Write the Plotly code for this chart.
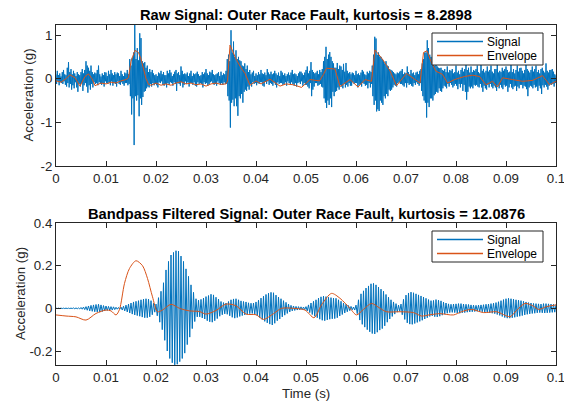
import numpy as np
import plotly.graph_objects as go

# ---------------- data ----------------
raw_signal = [
 0.10,-0.12,0.18,-0.05,0.08,-0.15,0.12,-0.08, 0.05,-0.10,0.15,-0.12,0.20,-0.06,0.10,-0.14,
 0.08,-0.18,0.25,-0.10,0.38,-0.20,0.15,-0.12, 0.22,-0.25,0.10,-0.15,0.18,-0.22,0.12,-0.08,
 0.06,-0.20,0.15,-0.30,0.10,-0.12,0.08,-0.18, 0.15,-0.10,0.22,-0.28,0.12,-0.15,0.20,-0.10,
 0.40,-0.18,0.30,-0.32,0.25,-0.15,0.18,-0.25, 0.30,-0.12,0.15,-0.20,0.10,-0.08,0.14,-0.12,
 0.12,-0.10,0.20,-0.15,0.30,-0.08,0.10,-0.12, 0.05,-0.14,0.12,-0.10,0.08,-0.18,0.15,-0.06,
 0.14,-0.10,0.06,-0.12,0.18,-0.08,0.10,-0.15, 0.20,-0.06,0.12,-0.16,0.08,-0.10,0.15,-0.12,
 0.10,-0.18,0.14,-0.06,0.12,-0.12,0.06,-0.14, 0.18,-0.08,0.10,-0.12,0.06,-0.16,0.14,-0.10,
 0.12,-0.10,0.20,-0.15,0.10,-0.12,0.45,-0.40, 0.30,-0.82,0.48,-0.45,0.60,-1.52,1.23,-0.40,
 0.45,-0.50,0.70,-0.38,0.42,-0.86,1.04,-0.45, 0.93,-0.60,0.40,-0.42,0.35,-0.30,0.38,-0.28,
 0.25,-0.22,0.30,-0.18,0.15,-0.20,0.22,-0.12, 0.15,-0.18,0.20,-0.10,0.12,-0.15,0.08,-0.12,
 0.10,-0.15,0.06,-0.20,0.14,-0.08,0.12,-0.10, 0.18,-0.06,0.10,-0.14,0.15,-0.16,0.08,-0.12,
 0.08,-0.20,0.18,-0.10,0.12,-0.14,0.20,-0.08, 0.14,-0.10,0.06,-0.16,0.10,-0.08,0.16,-0.12,
 0.20,-0.28,0.12,-0.10,0.15,-0.12,0.08,-0.16, 0.28,-0.08,0.18,-0.20,0.10,-0.14,0.12,-0.06,
 0.10,-0.12,0.14,-0.08,0.06,-0.18,0.12,-0.10, 0.18,-0.10,0.06,-0.14,0.12,-0.08,0.10,-0.16,
 0.12,-0.18,0.16,-0.08,0.10,-0.12,0.06,-0.10, 0.08,-0.12,0.15,-0.20,0.10,-0.08,0.14,-0.12,
 0.22,-0.10,0.12,-0.16,0.08,-0.12,0.16,-0.08, 0.14,-0.06,0.20,-0.10,0.10,-0.14,0.08,-0.12,
 0.10,-0.16,0.12,-0.06,0.15,-0.10,0.06,-0.14, 0.16,-0.10,0.08,-0.14,0.12,-0.08,0.10,-0.12,
 0.18,-0.12,0.45,-0.40,0.55,-0.50,0.40,-1.12, 1.11,-0.55,0.60,-0.48,0.85,-0.63,0.50,-0.45,
 0.65,-0.63,0.45,-0.85,0.50,-0.40,0.42,-0.45, 0.40,-0.35,0.30,-0.55,0.28,-0.30,0.35,-0.25,
 0.22,-0.28,0.30,-0.18,0.15,-0.25,0.20,-0.12, 0.10,-0.18,0.14,-0.08,0.18,-0.12,0.06,-0.10,
 0.12,-0.15,0.08,-0.10,0.15,-0.12,0.10,-0.08, 0.20,-0.08,0.12,-0.16,0.10,-0.18,0.14,-0.06,
 0.08,-0.12,0.22,-0.06,0.14,-0.14,0.10,-0.10, 0.16,-0.12,0.10,-0.16,0.12,-0.08,0.18,-0.14,
 0.12,-0.20,0.08,-0.08,0.14,-0.12,0.06,-0.10, 0.18,-0.10,0.14,-0.14,0.08,-0.12,0.12,-0.08,
 0.06,-0.16,0.10,-0.06,0.14,-0.10,0.08,-0.14, 0.14,-0.08,0.20,-0.12,0.10,-0.16,0.12,-0.10,
 0.10,-0.18,0.06,-0.10,0.12,-0.08,0.16,-0.12, 0.16,-0.06,0.12,-0.16,0.08,-0.10,0.14,-0.14,
 0.20,-0.14,0.28,-0.18,0.12,-0.22,0.18,-0.10, 0.38,-0.40,0.20,-0.25,0.15,-0.18,0.12,-0.10,
 0.14,-0.10,0.18,-0.16,0.10,-0.14,0.20,-0.12, 0.15,-0.18,0.22,-0.20,0.40,-0.45,0.50,-0.55,
 0.73,-0.67,0.45,-0.50,0.55,-0.60,0.61,-0.45, 0.50,-0.65,0.40,-0.30,0.35,-0.40,0.25,-0.30,
 0.25,-0.28,0.36,-0.20,0.22,-0.25,0.30,-0.15, 0.28,-0.18,0.20,-0.22,0.34,-0.12,0.16,-0.20,
 0.36,-0.14,0.18,-0.18,0.12,-0.10,0.15,-0.16, 0.10,-0.16,0.14,-0.08,0.12,-0.12,0.08,-0.10,
 0.18,-0.10,0.10,-0.20,0.12,-0.14,0.08,-0.12, 0.14,-0.18,0.20,-0.10,0.16,-0.12,0.10,-0.16,
 0.08,-0.14,0.16,-0.22,0.12,-0.10,0.18,-0.20, 0.15,-0.12,0.30,-0.40,0.55,-0.60,0.96,-0.50,
 0.92,-0.75,0.55,-0.70,0.60,-0.74,0.51,-0.50, 0.50,-0.55,0.45,-0.60,0.40,-0.40,0.35,-0.45,
 0.40,-0.35,0.30,-0.40,0.28,-0.25,0.22,-0.28, 0.20,-0.25,0.18,-0.20,0.15,-0.14,0.12,-0.16,
 0.10,-0.18,0.14,-0.10,0.12,-0.08,0.16,-0.12, 0.18,-0.12,0.22,-0.15,0.10,-0.18,0.14,-0.10,
 0.12,-0.20,0.28,-0.10,0.15,-0.14,0.10,-0.12, 0.20,-0.16,0.12,-0.18,0.14,-0.10,0.08,-0.14,
 0.14,-0.08,0.16,-0.12,0.10,-0.16,0.18,-0.10, 0.22,-0.28,0.35,-0.40,0.45,-0.50,0.60,-0.55,
 0.60,-0.89,0.88,-0.55,0.70,-0.65,0.55,-0.45, 0.50,-0.45,0.40,-0.50,0.35,-0.38,0.30,-0.35,
 0.35,-0.30,0.28,-0.32,0.25,-0.22,0.24,-0.28, 0.25,-0.30,0.20,-0.22,0.18,-0.16,0.22,-0.18,
 0.15,-0.22,0.28,-0.12,0.14,-0.18,0.20,-0.10, 0.18,-0.14,0.22,-0.20,0.12,-0.16,0.15,-0.12,
 0.30,-0.16,0.14,-0.24,0.18,-0.12,0.10,-0.20, 0.20,-0.12,0.25,-0.28,0.16,-0.14,0.22,-0.30,
 0.35,-0.48,0.20,-0.30,0.25,-0.18,0.14,-0.22, 0.28,-0.18,0.15,-0.22,0.20,-0.14,0.18,-0.16,
 0.22,-0.14,0.30,-0.18,0.15,-0.20,0.12,-0.12, 0.36,-0.20,0.18,-0.30,0.22,-0.16,0.14,-0.22,
 0.18,-0.25,0.28,-0.14,0.16,-0.20,0.20,-0.12, 0.30,-0.18,0.16,-0.22,0.12,-0.16,0.22,-0.20,
 0.22,-0.28,0.35,-0.16,0.14,-0.22,0.18,-0.14, 0.15,-0.20,0.25,-0.24,0.18,-0.14,0.22,-0.18,
 0.28,-0.16,0.20,-0.30,0.14,-0.20,0.16,-0.12, 0.38,-0.20,0.15,-0.24,0.22,-0.18,0.12,-0.16,
 0.20,-0.28,0.30,-0.18,0.16,-0.22,0.24,-0.14, 0.25,-0.14,0.18,-0.22,0.12,-0.16,0.20,-0.18,
 0.32,-0.24,0.22,-0.40,0.18,-0.20,0.14,-0.16, 0.20,-0.18,0.28,-0.22,0.16,-0.14,0.22,-0.20,
 0.30,-0.18,0.15,-0.28,0.20,-0.16,0.12,-0.22, 0.22,-0.35,0.25,-0.15,0.18,-0.20,0.14,-0.14,
 0.35,-0.18,0.18,-0.25,0.14,-0.16,0.20,-0.12, 0.20,-0.14,0.22,-0.12,0.16,-0.18,0.10,-0.10,
 0.08,
]

raw_env_t = [0, 0.001, 0.002, 0.0028, 0.0038, 0.0048, 0.0058, 0.0065, 0.0072, 0.0078,
             0.009, 0.010, 0.011, 0.012, 0.013, 0.014, 0.0145, 0.015, 0.0158, 0.0165,
             0.017, 0.0175, 0.018, 0.0185, 0.019, 0.020, 0.021, 0.022, 0.023, 0.024,
             0.025, 0.026, 0.027, 0.028, 0.029, 0.030, 0.031, 0.032, 0.033, 0.034,
             0.0343, 0.0348, 0.0355, 0.036, 0.037, 0.0378, 0.0388, 0.040, 0.041, 0.0428,
             0.0448, 0.046, 0.0475, 0.0491, 0.0508, 0.0527, 0.0535, 0.0541, 0.0558, 0.0568,
             0.0588, 0.0604, 0.0618, 0.0631, 0.0638, 0.0654, 0.0668, 0.0681, 0.0701, 0.0715,
             0.0728, 0.0735, 0.0742, 0.0750, 0.0760, 0.0773, 0.0783, 0.0797, 0.0817, 0.0833,
             0.0847, 0.0860, 0.0873, 0.0883, 0.0893, 0.0913, 0.0933, 0.0953, 0.0973, 0.0987,
             0.1]
raw_env_v = [-0.05, -0.08, 0.00, 0.09, 0.02, -0.17, 0.05, 0.11, 0.00, -0.16,
             -0.10, -0.12, -0.08, -0.10, -0.05, -0.02, 0.02, 0.40, 0.65, 0.60,
             0.45, 0.25, 0.00, -0.13, -0.15, -0.10, -0.15, -0.12, -0.15, -0.10,
             -0.07, -0.12, -0.10, -0.14, -0.12, -0.17, -0.12, -0.10, -0.13, -0.12,
             -0.05, 0.77, 0.60, 0.45, 0.25, 0.12, -0.15, -0.05, -0.12, -0.01,
             -0.17, -0.12, -0.14, -0.20, -0.02, -0.05, 0.10, 0.24, 0.22, -0.18,
             -0.02, -0.19, -0.02, -0.06, 0.66, 0.43, 0.18, -0.16, 0.12, 0.00,
             -0.10, 0.60, 0.64, 0.39, 0.17, 0.10, -0.10, -0.02, 0.05, 0.08,
             0.05, -0.14, -0.06, -0.19, 0.02, -0.02, -0.06, -0.04, 0.07, -0.14,
             -0.06]

bp_signal = [
 0.001,-0.001,0.001,-0.001, 0.001,-0.001,0.001,-0.001, 0.001,-0.001,0.001,-0.001,
 0.001,-0.001,0.002,-0.002, 0.002,-0.002,0.002,-0.003,
 0.004,-0.004,0.006,-0.006, 0.008,-0.009,0.011,-0.012, 0.014,-0.014,0.016,-0.016,
 0.018,-0.017,0.019,-0.018, 0.016,-0.015,0.013,-0.012, 0.011,-0.010,0.009,-0.009,
 0.008,-0.008,0.007,-0.006, 0.005,-0.004,0.004,-0.004, 0.006,-0.008,0.010,-0.012,
 0.015,-0.017,0.020,-0.022, 0.025,-0.027,0.030,-0.031, 0.033,-0.034,0.036,-0.037,
 0.040,-0.041,0.043,-0.044, 0.045,-0.044,0.043,-0.040, 0.036,-0.030,0.024,-0.018,
 0.020,-0.035,0.050,-0.065, 0.080,-0.100,0.120,-0.150, 0.180,-0.200,0.220,-0.235,
 0.250,-0.255,0.262,-0.265, 0.270,-0.262,0.268,-0.250, 0.245,-0.235,0.220,-0.210,
 0.185,-0.170,0.150,-0.135, 0.110,-0.095,0.075,-0.062, 0.045,-0.040,0.038,-0.040,
 0.042,-0.045,0.048,-0.050, 0.055,-0.058,0.060,-0.063, 0.066,-0.065,0.063,-0.058,
 0.052,-0.048,0.043,-0.037, 0.032,-0.030,0.027,-0.026, 0.025,-0.028,0.032,-0.035,
 0.040,-0.042,0.044,-0.046, 0.045,-0.043,0.040,-0.038, 0.035,-0.034,0.032,-0.031,
 0.030,-0.028,0.026,-0.025, 0.024,-0.024,0.025,-0.027, 0.030,-0.034,0.038,-0.043,
 0.048,-0.052,0.057,-0.061, 0.065,-0.068,0.071,-0.074, 0.075,-0.078,0.073,-0.070,
 0.062,-0.058,0.053,-0.050, 0.045,-0.040,0.036,-0.032, 0.028,-0.024,0.020,-0.017,
 0.014,-0.012,0.011,-0.010, 0.009,-0.008,0.008,-0.007, 0.007,-0.006,0.006,-0.006,
 0.008,-0.012,0.016,-0.020, 0.025,-0.029,0.033,-0.037, 0.040,-0.044,0.048,-0.051,
 0.054,-0.056,0.057,-0.058, 0.055,-0.054,0.052,-0.051, 0.050,-0.049,0.048,-0.048,
 0.047,-0.044,0.040,-0.036, 0.033,-0.029,0.025,-0.022, 0.019,-0.016,0.013,-0.011,
 0.009,-0.007,0.006,-0.008, 0.015,-0.025,0.040,-0.055, 0.068,-0.075,0.082,-0.088,
 0.095,-0.100,0.105,-0.110, 0.115,-0.118,0.117,-0.120, 0.110,-0.112,0.100,-0.102,
 0.090,-0.095,0.080,-0.082, 0.065,-0.065,0.052,-0.050, 0.040,-0.038,0.030,-0.027,
 0.022,-0.018,0.015,-0.014, 0.020,-0.030,0.042,-0.052, 0.062,-0.068,0.072,-0.074,
 0.076,-0.075,0.073,-0.071, 0.068,-0.066,0.063,-0.061, 0.058,-0.056,0.053,-0.050,
 0.047,-0.044,0.041,-0.038, 0.036,-0.035,0.037,-0.039, 0.041,-0.040,0.038,-0.037,
 0.035,-0.032,0.029,-0.027, 0.025,-0.023,0.021,-0.020, 0.019,-0.019,0.020,-0.020,
 0.021,-0.022,0.022,-0.023, 0.022,-0.021,0.020,-0.020, 0.019,-0.018,0.018,-0.017,
 0.016,-0.016,0.015,-0.015, 0.014,-0.014,0.015,-0.015, 0.016,-0.016,0.017,-0.018,
 0.019,-0.019,0.020,-0.021, 0.022,-0.023,0.024,-0.025, 0.027,-0.029,0.031,-0.033,
 0.036,-0.038,0.041,-0.043, 0.045,-0.046,0.047,-0.046, 0.045,-0.044,0.043,-0.042,
 0.040,-0.039,0.038,-0.037, 0.036,-0.034,0.033,-0.031, 0.030,-0.028,0.027,-0.026,
 0.025,-0.024,0.023,-0.023, 0.022,-0.021,0.021,-0.020, 0.020,-0.021,0.022,-0.022,
 0.022,-0.021,0.021,-0.020, 0.020,-0.019,0.019,-0.018,
 0.018,
]

bp_env_t = [0, 0.002, 0.004, 0.006, 0.008, 0.010, 0.011, 0.012, 0.0127, 0.0137,
            0.0147, 0.016, 0.0173, 0.0183, 0.0193, 0.0203, 0.0213, 0.023, 0.0247, 0.0267,
            0.0287, 0.030, 0.032, 0.034, 0.036, 0.038, 0.040, 0.0415, 0.0435, 0.0451,
            0.0475, 0.0498, 0.0516, 0.0531, 0.0551, 0.0568, 0.0588, 0.0601, 0.0615, 0.0631,
            0.0648, 0.0661, 0.0688, 0.0715, 0.0731, 0.0748, 0.0768, 0.0795, 0.0811, 0.0831,
            0.0855, 0.0881, 0.0908, 0.0921, 0.0938, 0.0955, 0.0965, 0.0981, 0.1]
bp_env_v = [-0.031, -0.036, -0.040, -0.055, -0.024, -0.008, -0.012, -0.031, -0.005, 0.117,
            0.187, 0.223, 0.200, 0.140, 0.054, -0.016, -0.008, 0.019, 0.000, -0.012,
            -0.015, -0.027, -0.010, 0.020, 0.012, -0.027, -0.030, -0.052, -0.025, 0.000,
            0.000, -0.008, -0.044, 0.016, 0.070, 0.047, 0.000, -0.031, -0.005, 0.023,
            0.000, -0.016, -0.016, -0.020, -0.036, -0.030, -0.025, -0.031, -0.016, -0.005,
            -0.020, -0.016, -0.039, -0.010, 0.023, 0.010, -0.005, 0.008, 0.016]

x_ticks = [0, 0.01, 0.02, 0.03, 0.04, 0.05, 0.06, 0.07, 0.08, 0.09, 0.1]
x_tick_labels = ["0", "0.01", "0.02", "0.03", "0.04", "0.05", "0.06", "0.07", "0.08", "0.09", "0.1"]
y1_ticks = [-2, -1, 0, 1]
y1_tick_labels = ["-2", "-1", "0", "1"]
y2_ticks = [-0.2, 0, 0.2, 0.4]
y2_tick_labels = ["-0.2", "0", "0.2", "0.4"]

title_top = "Raw Signal: Outer Race Fault, kurtosis = 8.2898"
title_bot = "Bandpass Filtered Signal: Outer Race Fault, kurtosis = 12.0876"
legend_names = ["Signal", "Envelope"]
y_label = "Acceleration (g)"
x_label = "Time (s)"

# ---------------- layout helpers (pixel -> paper) ----------------
W, H = 564, 402
ML, MR, MT, MB = 56, 8, 25, 37
PW, PH = W - ML - MR, H - MT - MB


def px(x):
    return (x - ML) / PW


def py(y):
    return (H - MB - y) / PH


BLUE = "#0072BD"
ORANGE = "#D95319"
AX = "#262626"
FONT = "Liberation Sans"

t_raw = np.linspace(0, 0.1, len(raw_signal))
t_bp = np.linspace(0, 0.1, len(bp_signal))

fig = go.Figure()
fig.add_trace(go.Scatter(x=t_raw, y=raw_signal, mode="lines", name=legend_names[0],
                         line=dict(color=BLUE, width=1), xaxis="x", yaxis="y"))
fig.add_trace(go.Scatter(x=raw_env_t, y=raw_env_v, mode="lines", name=legend_names[1],
                         line=dict(color=ORANGE, width=1), xaxis="x", yaxis="y"))
fig.add_trace(go.Scatter(x=t_bp, y=bp_signal, mode="lines", name=legend_names[0],
                         line=dict(color=BLUE, width=1), xaxis="x2", yaxis="y2"))
fig.add_trace(go.Scatter(x=bp_env_t, y=bp_env_v, mode="lines", name=legend_names[1],
                         line=dict(color=ORANGE, width=1, shape="spline", smoothing=0.8),
                         xaxis="x2", yaxis="y2"))

axis_common = dict(showline=True, linecolor=AX, linewidth=1, mirror="ticks",
                   ticks="inside", ticklen=5, tickcolor=AX, showgrid=False, zeroline=False,
                   tickfont=dict(family=FONT, size=13.3, color=AX))

top_dom = [py(166), py(25)]
bot_dom = [py(365), py(223)]

fig.update_layout(
    width=W, height=H,
    margin=dict(l=ML, r=MR, t=MT, b=MB, autoexpand=False),
    paper_bgcolor="white", plot_bgcolor="white",
    showlegend=False,
    xaxis=dict(domain=[0, 1], anchor="y", range=[0, 0.1], tickvals=x_ticks,
               ticktext=x_tick_labels, ticklabeloverflow="allow", **axis_common),
    yaxis=dict(domain=top_dom, anchor="x", range=[-2, 1.23], tickvals=y1_ticks,
               ticktext=y1_tick_labels, **axis_common),
    xaxis2=dict(domain=[0, 1], anchor="y2", range=[0, 0.1], tickvals=x_ticks,
                ticktext=x_tick_labels, ticklabeloverflow="allow", **axis_common),
    yaxis2=dict(domain=bot_dom, anchor="x2", range=[-0.2656, 0.4], tickvals=y2_ticks,
                ticktext=y2_tick_labels, **axis_common),
)

# titles and axis labels
title_font = dict(family=FONT, size=14.7, color="black")
lab_font = dict(family=FONT, size=13.3, color=AX)
fig.add_annotation(text="<b>" + title_top + "</b>", xref="paper", yref="paper",
                   x=px(306), y=py(15), showarrow=False, xanchor="center", yanchor="middle",
                   font=title_font)
fig.add_annotation(text="<b>" + title_bot + "</b>", xref="paper", yref="paper",
                   x=px(306), y=py(213.5), showarrow=False, xanchor="center", yanchor="middle",
                   font=title_font)
fig.add_annotation(text=y_label, xref="paper", yref="paper", x=px(28), y=py(95.5),
                   showarrow=False, textangle=-90, xanchor="center", yanchor="middle",
                   font=lab_font)
fig.add_annotation(text=y_label, xref="paper", yref="paper", x=px(20), y=py(294),
                   showarrow=False, textangle=-90, xanchor="center", yanchor="middle",
                   font=lab_font)
fig.add_annotation(text=x_label, xref="paper", yref="paper", x=px(306), y=py(393),
                   showarrow=False, xanchor="center", yanchor="middle", font=lab_font)

# MATLAB-style legend boxes
leg_font = dict(family=FONT, size=12, color="black")
for (bx0, by0, by1) in [(432, 33, 65), (432, 231, 262)]:
    fig.add_shape(type="rect", xref="paper", yref="paper",
                  x0=px(bx0), x1=px(543), y0=py(by1), y1=py(by0),
                  line=dict(color=AX, width=1), fillcolor="white", layer="above")
    rows = [by0 + 8.5, by0 + 22.5]
    for name, color, ry in zip(legend_names, [BLUE, ORANGE], rows):
        fig.add_shape(type="line", xref="paper", yref="paper",
                      x0=px(437), x1=px(483), y0=py(ry), y1=py(ry),
                      line=dict(color=color, width=1.5), layer="above")
        fig.add_annotation(text=name, xref="paper", yref="paper", x=px(485), y=py(ry),
                           showarrow=False, xanchor="left", yanchor="middle", font=leg_font)

fig.write_html("out.html", config={"displayModeBar": False},
               post_script="document.body.style.margin='0px';")
